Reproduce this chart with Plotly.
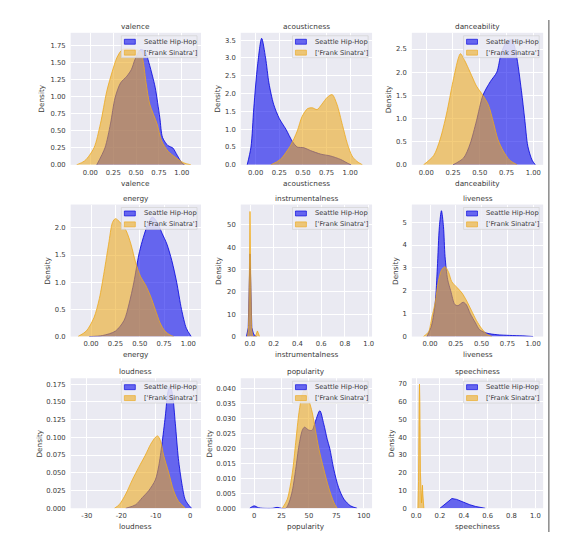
import plotly.graph_objects as go

W, H = 567, 540

features = ["valence", "acousticness", "danceability",
            "energy", "instrumentalness", "liveness",
            "loudness", "popularity", "speechiness"]
series_names = ["Seattle Hip-Hop", "['Frank Sinatra']"]

# ---- density curves (x, density) ----
valence_hiphop_x = [0.07, 0.16, 0.22, 0.27, 0.33, 0.40, 0.45, 0.49, 0.55, 0.60, 0.64, 0.68, 0.71, 0.76, 0.79, 0.85, 0.90, 0.95, 1.0, 1.03]
valence_hiphop_y = [0.0, 0.25, 0.6, 0.98, 1.2, 1.3, 1.4, 1.55, 1.69, 1.66, 1.5, 1.3, 1.13, 0.69, 0.4, 0.28, 0.25, 0.14, 0.03, 0.0]
valence_sinatra_x = [-0.15, -0.06, 0.04, 0.11, 0.18, 0.24, 0.29, 0.35, 0.42, 0.49, 0.55, 0.58, 0.61, 0.65, 0.73, 0.78, 0.85, 0.93, 1.02, 1.10]
valence_sinatra_y = [0.0, 0.06, 0.25, 0.6, 1.08, 1.37, 1.57, 1.69, 1.7, 1.69, 1.66, 1.5, 1.2, 0.89, 0.6, 0.35, 0.2, 0.11, 0.03, 0.0]

acousticness_hiphop_x = [-0.09, -0.05, -0.02, 0.02, 0.063, 0.105, 0.14, 0.19, 0.25, 0.32, 0.39, 0.44, 0.51, 0.58, 0.69, 0.79, 0.9, 0.97, 1.01]
acousticness_hiphop_y = [0.0, 0.5, 1.6, 2.8, 3.55, 3.0, 2.3, 1.7, 1.3, 1.0, 0.65, 0.5, 0.48, 0.4, 0.3, 0.25, 0.15, 0.05, 0.0]
acousticness_sinatra_x = [0.16, 0.26, 0.37, 0.44, 0.49, 0.55, 0.60, 0.65, 0.70, 0.76, 0.81, 0.86, 0.92, 0.97, 1.02, 1.07, 1.13]
acousticness_sinatra_y = [0.0, 0.15, 0.55, 0.95, 1.35, 1.58, 1.6, 1.55, 1.7, 1.9, 1.97, 1.7, 1.1, 0.6, 0.25, 0.1, 0.0]

danceability_hiphop_x = [0.25, 0.35, 0.41, 0.47, 0.53, 0.60, 0.66, 0.70, 0.75, 0.80, 0.84, 0.89, 0.92, 0.95, 0.99, 1.02]
danceability_hiphop_y = [0.0, 0.15, 0.45, 0.95, 1.5, 1.8, 2.0, 2.4, 2.65, 2.7, 2.4, 1.6, 1.0, 0.4, 0.1, 0.0]
danceability_sinatra_x = [-0.025, 0.07, 0.13, 0.19, 0.25, 0.30, 0.32, 0.36, 0.43, 0.47, 0.53, 0.58, 0.63, 0.67, 0.72, 0.78, 0.85]
danceability_sinatra_y = [0.0, 0.2, 0.55, 1.1, 1.8, 2.3, 2.4, 2.25, 1.9, 1.7, 1.5, 1.3, 0.9, 0.55, 0.3, 0.1, 0.0]

energy_hiphop_x = [-0.02, 0.12, 0.25, 0.34, 0.39, 0.44, 0.49, 0.525, 0.58, 0.63, 0.68, 0.73, 0.78, 0.83, 0.88, 0.93, 0.98, 1.03]
energy_hiphop_y = [0.0, 0.02, 0.1, 0.3, 0.6, 1.0, 1.5, 1.75, 2.05, 2.2, 2.1, 1.9, 1.7, 1.4, 1.0, 0.5, 0.15, 0.0]
energy_sinatra_x = [-0.135, -0.05, 0.03, 0.085, 0.135, 0.18, 0.22, 0.25, 0.30, 0.36, 0.41, 0.46, 0.51, 0.56, 0.61, 0.66, 0.71, 0.76, 0.81, 0.85]
energy_sinatra_y = [0.0, 0.1, 0.35, 0.7, 1.2, 1.7, 2.1, 2.17, 2.1, 1.95, 1.7, 1.35, 1.1, 0.95, 0.75, 0.5, 0.25, 0.1, 0.03, 0.0]

instrumentalness_hiphop_x = [-0.03, -0.015, -0.007, 0.0, 0.007, 0.015, 0.03, 0.045, 0.055]
instrumentalness_hiphop_y = [0.0, 4.0, 22.0, 37.0, 22.0, 4.0, 1.0, 0.5, 0.0]
instrumentalness_sinatra_x = [-0.02, -0.012, -0.005, 0.0, 0.005, 0.012, 0.02, 0.03, 0.045, 0.055, 0.062, 0.07, 0.08]
instrumentalness_sinatra_y = [0.0, 5.0, 30.0, 56.0, 30.0, 5.0, 0.5, 0.0, 0.0, 1.5, 2.5, 1.5, 0.0]

liveness_hiphop_x = [-0.03, 0.015, 0.05, 0.07, 0.09, 0.11, 0.13, 0.145, 0.17, 0.2, 0.24, 0.27, 0.32, 0.35, 0.39, 0.44, 0.48, 0.55, 0.65, 0.77, 0.9, 1.0]
liveness_hiphop_y = [0.0, 0.5, 1.5, 3.0, 4.8, 5.5, 4.8, 3.5, 2.5, 2.0, 1.4, 1.35, 1.5, 1.4, 1.0, 0.6, 0.3, 0.15, 0.08, 0.05, 0.03, 0.0]
liveness_sinatra_x = [-0.065, -0.015, 0.015, 0.05, 0.08, 0.11, 0.145, 0.18, 0.21, 0.26, 0.31, 0.35, 0.4, 0.45, 0.5, 0.55, 0.6]
liveness_sinatra_y = [0.0, 0.2, 0.8, 1.5, 2.4, 2.9, 3.05, 2.8, 2.4, 2.15, 1.9, 1.6, 1.15, 0.7, 0.35, 0.1, 0.0]

loudness_hiphop_x = [-18.7, -15.8, -13.9, -12.0, -10.1, -9.1, -8.2, -7.2, -6.4, -5.8, -5.1, -4.3, -3.4, -2.4, -1.4, 0.0, 0.5]
loudness_hiphop_y = [0.0, 0.005, 0.015, 0.025, 0.04, 0.06, 0.09, 0.13, 0.165, 0.172, 0.16, 0.12, 0.07, 0.035, 0.012, 0.002, 0.0]
loudness_sinatra_x = [-22.0, -20.6, -18.7, -16.8, -14.9, -13.0, -11.5, -10.1, -9.4, -8.6, -7.7, -6.2, -4.8, -3.4, -1.4]
loudness_sinatra_y = [0.0, 0.005, 0.02, 0.04, 0.058, 0.075, 0.09, 0.1, 0.102, 0.095, 0.075, 0.05, 0.025, 0.01, 0.0]

popularity_hiphop_x = [-4, 0, 4, 8, 17, 21, 25, 29, 32, 35, 38, 41, 44, 46, 50, 53, 56, 60, 63.6, 66.7, 69, 72.7, 77, 82, 88, 94]
popularity_hiphop_y = [0.0, 0.0008, 0.0002, 0.0, 0.0, 0.0003, 0.0, 0.0, 0.002, 0.006, 0.013, 0.021, 0.026, 0.027, 0.026, 0.026, 0.029, 0.0325, 0.028, 0.023, 0.02, 0.013, 0.007, 0.003, 0.0008, 0.0]
popularity_sinatra_x = [25.8, 30.3, 35, 38, 41, 44, 47, 50, 53, 56, 59, 63.6, 68, 72.7, 75.8]
popularity_sinatra_y = [0.0, 0.003, 0.012, 0.022, 0.032, 0.038, 0.04, 0.036, 0.032, 0.026, 0.02, 0.013, 0.007, 0.002, 0.0]

speechiness_hiphop_x = [0.2, 0.24, 0.27, 0.3, 0.34, 0.39, 0.45, 0.5, 0.55, 0.58]
speechiness_hiphop_y = [0.0, 2.0, 4.0, 5.5, 5.0, 3.5, 2.0, 1.0, 0.3, 0.0]
speechiness_sinatra_x = [0.015, 0.02, 0.025, 0.028, 0.031, 0.036, 0.04, 0.045, 0.05, 0.053, 0.056, 0.06, 0.065]
speechiness_sinatra_y = [0.0, 15.0, 60.0, 70.0, 60.0, 20.0, 5.0, 3.0, 10.0, 13.0, 8.0, 2.0, 0.0]

# ---- axis ticks ----
x_ticks = {
    "valence": [0, 0.25, 0.5, 0.75, 1.0],
    "acousticness": [0, 0.25, 0.5, 0.75, 1.0, 1.25],
    "danceability": [0, 0.25, 0.5, 0.75, 1.0],
    "energy": [0, 0.25, 0.5, 0.75, 1.0],
    "instrumentalness": [0, 0.2, 0.4, 0.6, 0.8, 1.0],
    "liveness": [0, 0.25, 0.5, 0.75, 1.0],
    "loudness": [-30, -20, -10, 0],
    "popularity": [0, 25, 50, 75, 100],
    "speechiness": [0, 0.2, 0.4, 0.6, 0.8, 1.0],
}
x_fmt = {"valence": "{:.2f}", "acousticness": "{:.2f}", "danceability": "{:.2f}",
         "energy": "{:.2f}", "instrumentalness": "{:.1f}", "liveness": "{:.2f}",
         "loudness": "{:.0f}", "popularity": "{:.0f}", "speechiness": "{:.1f}"}
y_ticks = {
    "valence": [0, 0.25, 0.5, 0.75, 1.0, 1.25, 1.5, 1.75],
    "acousticness": [0, 0.5, 1.0, 1.5, 2.0, 2.5, 3.0, 3.5],
    "danceability": [0, 0.5, 1.0, 1.5, 2.0, 2.5],
    "energy": [0, 0.5, 1.0, 1.5, 2.0],
    "instrumentalness": [0, 10, 20, 30, 40, 50],
    "liveness": [0, 1, 2, 3, 4, 5],
    "loudness": [0, 0.025, 0.05, 0.075, 0.1, 0.125, 0.15, 0.175],
    "popularity": [0, 0.005, 0.01, 0.015, 0.02, 0.025, 0.03, 0.035, 0.04],
    "speechiness": [0, 10, 20, 30, 40, 50, 60, 70],
}
y_fmt = {"valence": "{:.2f}", "acousticness": "{:.1f}", "danceability": "{:.1f}",
         "energy": "{:.1f}", "instrumentalness": "{:.0f}", "liveness": "{:.0f}",
         "loudness": "{:.3f}", "popularity": "{:.3f}", "speechiness": "{:.0f}"}
x_range = {"valence": [-0.215, 1.21], "acousticness": [-0.158, 1.232],
           "danceability": [-0.134, 1.093], "energy": [-0.21, 1.13],
           "instrumentalness": [-0.078, 1.028], "liveness": [-0.177, 1.097],
           "loudness": [-34.7, 3.16], "popularity": [-12.1, 107.6],
           "speechiness": [-0.036, 1.066]}
y_range = {"valence": [0, 1.935], "acousticness": [0, 3.705], "danceability": [0, 2.85],
           "energy": [0, 2.43], "instrumentalness": [0, 59.1], "liveness": [0, 5.77],
           "loudness": [0, 0.1834], "popularity": [0, 0.0433], "speechiness": [0, 73.3]}

hiphop = {f: (globals()[f + "_hiphop_x"], globals()[f + "_hiphop_y"]) for f in features}
sinatra = {f: (globals()[f + "_sinatra_x"], globals()[f + "_sinatra_y"]) for f in features}
spiky = {"instrumentalness", "speechiness"}

# ---- layout geometry (pixels) ----
col_px = [(62, 193), (233, 365), (405, 537)]
row_px = [(25, 158), (198, 331), (373, 504)]
ylabel_off = {"valence": 29, "acousticness": 23, "danceability": 23.5, "energy": 23.5,
              "instrumentalness": 22.5, "liveness": 16.5, "loudness": 31.5,
              "popularity": 31.5, "speechiness": 21}

BLUE_FILL = "rgba(0,0,235,0.57)"
BLUE_LINE = "rgba(0,0,220,0.8)"
ORANGE_FILL = "rgba(236,169,30,0.58)"
ORANGE_LINE = "rgba(236,169,30,0.8)"
TXT = "#3a3a3a"
FONT = "DejaVu Sans"


def px(xp):
    return xp / W


def py(yp):
    return 1 - yp / H


fig = go.Figure()
shapes = []
annotations = []

for i, f in enumerate(features):
    r, c = divmod(i, 3)
    x0p, x1p = col_px[c]
    y0p, y1p = row_px[r]
    xa = "x" if i == 0 else f"x{i + 1}"
    ya = "y" if i == 0 else f"y{i + 1}"
    xkey = "xaxis" if i == 0 else f"xaxis{i + 1}"
    ykey = "yaxis" if i == 0 else f"yaxis{i + 1}"
    shape = "linear" if f in spiky else "spline"

    for (xs, ys), fc, lc, nm in [(hiphop[f], BLUE_FILL, BLUE_LINE, series_names[0]),
                                 (sinatra[f], ORANGE_FILL, ORANGE_LINE, series_names[1])]:
        fig.add_trace(go.Scatter(
            x=xs, y=ys, mode="lines", fill="tozeroy", fillcolor=fc,
            line=dict(color=lc, width=1, shape=shape, smoothing=0.8),
            xaxis=xa, yaxis=ya, name=nm, showlegend=False, hoverinfo="skip"))

    fig.layout[xkey] = dict(
        domain=[px(x0p), px(x1p)], range=x_range[f], anchor=ya,
        tickvals=x_ticks[f], ticktext=[x_fmt[f].format(v) for v in x_ticks[f]],
        showgrid=True, gridcolor="white", gridwidth=1, zeroline=False,
        showline=False, ticks="", tickfont=dict(size=6.8, color=TXT, family=FONT),
        ticklabelstandoff=2, fixedrange=True)
    fig.layout[ykey] = dict(
        domain=[py(y1p), py(y0p)], range=y_range[f], anchor=xa,
        tickvals=y_ticks[f], ticktext=[y_fmt[f].format(v) for v in y_ticks[f]],
        showgrid=True, gridcolor="white", gridwidth=1, zeroline=False,
        showline=False, ticks="", tickfont=dict(size=6.8, color=TXT, family=FONT),
        ticklabelstandoff=4, fixedrange=True)

    # subplot title
    annotations.append(dict(x=px((x0p + x1p) / 2), y=py(y0p - 6.5), xref="paper", yref="paper",
                            text=f, showarrow=False, xanchor="center", yanchor="middle",
                            font=dict(size=7.3, color=TXT, family=FONT)))
    # x label
    annotations.append(dict(x=px((x0p + x1p) / 2), y=py(y1p + 18.5), xref="paper", yref="paper",
                            text=f, showarrow=False, xanchor="center", yanchor="middle",
                            font=dict(size=7.3, color=TXT, family=FONT)))
    # y label
    annotations.append(dict(x=px(x0p - ylabel_off[f]), y=py((y0p + y1p) / 2), xref="paper", yref="paper",
                            text="Density", showarrow=False, textangle=-90,
                            xanchor="center", yanchor="middle",
                            font=dict(size=7.3, color=TXT, family=FONT)))

    # legend box
    bl, br = x1p - 80, x1p - 4
    bt, bb = y0p + 3, y0p + 25
    shapes.append(dict(type="rect", xref="paper", yref="paper",
                       x0=px(bl), x1=px(br), y0=py(bb), y1=py(bt),
                       fillcolor="rgba(236,236,244,0.85)", line=dict(color="rgba(210,210,210,0.9)", width=0.8)))
    for k, (fc, lc, nm) in enumerate([(BLUE_FILL, BLUE_LINE, series_names[0]),
                                      (ORANGE_FILL, ORANGE_LINE, series_names[1])]):
        cy = bt + 6 + k * 11
        shapes.append(dict(type="rect", xref="paper", yref="paper",
                           x0=px(bl + 3), x1=px(bl + 14), y0=py(cy + 2.5), y1=py(cy - 2.5),
                           fillcolor=fc, line=dict(color=lc, width=0.8)))
        annotations.append(dict(x=px(bl + 21), y=py(cy), xref="paper", yref="paper",
                                text=nm, showarrow=False, xanchor="left", yanchor="middle",
                                font=dict(size=6.7, color=TXT, family=FONT)))

# separator line at the right of the picture
shapes.append(dict(type="line", xref="paper", yref="paper",
                   x0=px(542.7), x1=px(542.7), y0=py(528), y1=py(12),
                   line=dict(color="#8a8a8a", width=1.5)))

fig.update_layout(
    width=W, height=H, margin=dict(l=0, r=0, t=0, b=0),
    paper_bgcolor="white", plot_bgcolor="#eaeaf2",
    font=dict(family=FONT, color=TXT),
    shapes=shapes, annotations=annotations, showlegend=False)

fig.write_html("out.html")
